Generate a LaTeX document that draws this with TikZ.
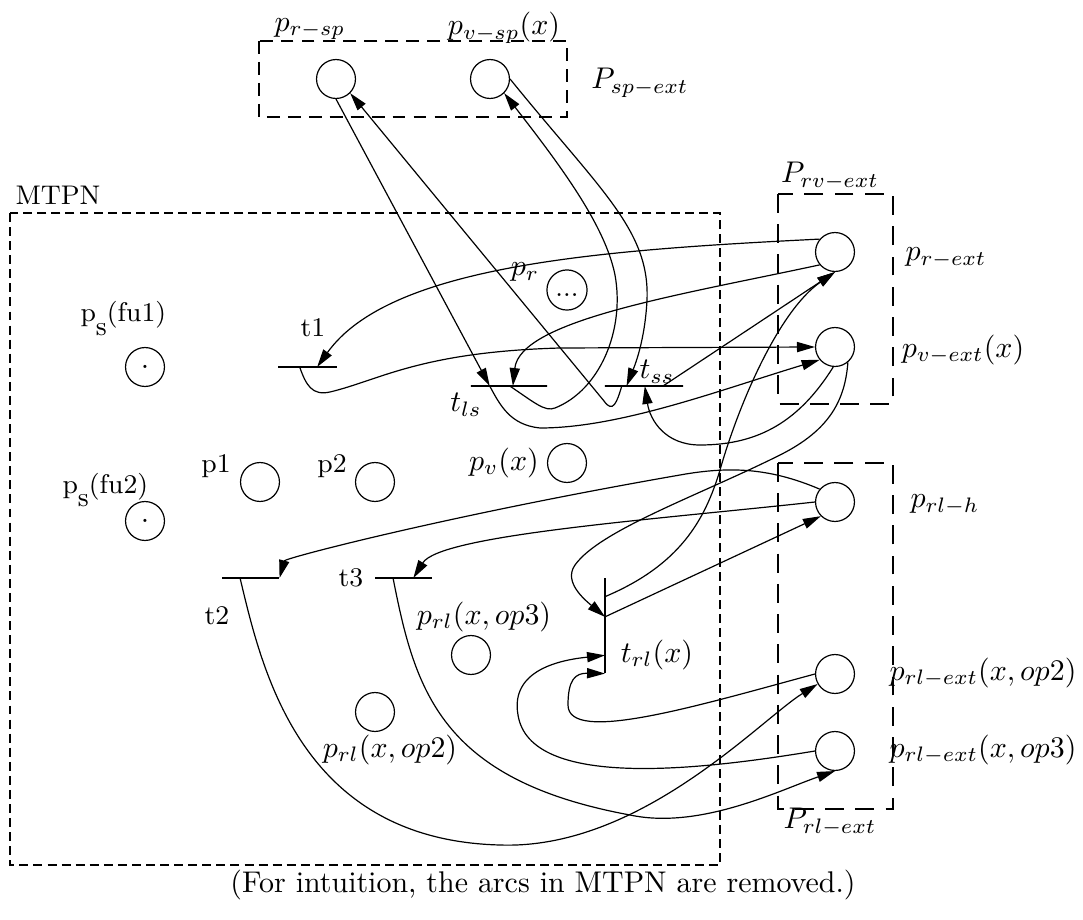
\documentclass[tikz,border=0pt]{standalone}
\usepackage{amsmath}
\usetikzlibrary{arrows.meta,calc}

\begin{document}
\begin{tikzpicture}[x=0.334pt,y=-0.334pt,>={Triangle[length=6pt,width=3.4pt]},
  place/.style={circle,draw,minimum size=13pt,inner sep=0pt},
  hbar/.style={draw,minimum width=#1,minimum height=0pt,inner sep=0pt},
  vbar/.style={draw,minimum height=#1,minimum width=0pt,inner sep=0pt},
  plain/.style={font=\small},
  netbox/.style={dash pattern=on 3pt off 1.7pt},
  extbox/.style={dash pattern=on 6.3pt off 3.8pt},
  spbox/.style={dash pattern=on 4.3pt off 2.7pt}]
  \useasboundingbox (0,0) rectangle (1083,920);

  \draw[spbox] (259,41) rectangle (567,117);
  \draw[netbox] (10,213) rectangle (720,865);
  \draw[extbox] (778,194) rectangle (893,404);
  \draw[extbox] (778,463) rectangle (893,809);

  \node[place] (prsp) at (336,79) {};
  \node[place] (pvsp) at (490,79) {};
  \node[place] (pr) at (567,290) {\small\strut...};
  \node[place] (psfu1) at (145,367) {.};
  \node[place] (psfu2) at (145,521) {.};
  \node[place] (p1) at (260,482) {};
  \node[place] (p2) at (375,482) {};
  \node[place] (pv) at (567,463) {};
  \node[place] (prl3) at (471,655) {};
  \node[place] (prl2) at (375,712) {};
  \node[place] (prext) at (835,252) {};
  \node[place] (pvext) at (835,347) {};
  \node[place] (prlh) at (835,502) {};
  \node[place] (prlext2) at (835,674) {};
  \node[place] (prlext3) at (835,751) {};

  \node[hbar=19.7pt] (t1) at (307.5,367) {};
  \node[hbar=25.4pt] (tls) at (509,386) {};
  \node[hbar=26.1pt] (tss) at (644,386) {};
  \node[hbar=19pt] (t2) at (250.5,578) {};
  \node[hbar=19pt] (t3) at (403.5,578) {};
  \node[vbar=31.7pt] (trl) at (605,625.5) {};

  \node (lprsp) at (310,29) {$p_{r-sp}$};
  \node (lpvsp) at (504,28) {$p_{v-sp}(x)$};
  \node (lspext) at (640,83) {$P_{sp-ext}$};
  \node[plain] (lmtpn) at (58,195) {MTPN};
  \node (lrvext) at (830,176) {$P_{rv-ext}$};
  \node (lprext) at (946,258) {$p_{r-ext}$};
  \node (lpvext) at (963,350) {$p_{v-ext}(x)$};
  \node (lprlh) at (945,505) {$p_{rl-h}$};
  \node (lprlext2) at (983,673) {$p_{rl-ext}(x,op2)$};
  \node (lprlext3) at (983,750) {$p_{rl-ext}(x,op3)$};
  \node (lrlext) at (830,822) {$P_{rl-ext}$};
  \node (lpr) at (525,272) {$p_r$};
  \node[plain,anchor=base west,inner sep=0pt] (lpsfu1) at (80,322) {p\raisebox{-4.5pt}{s}(fu1)};
  \node[plain,anchor=base west,inner sep=0pt] (lpsfu2) at (62,493) {p\raisebox{-4.5pt}{s}(fu2)};
  \node[plain] (lp1) at (216,466) {p1};
  \node[plain] (lp2) at (332,466) {p2};
  \node (lpv) at (504,463) {$p_v(x)$};
  \node[plain] (lt1) at (313,328) {t1};
  \node (ltls) at (466,405) {$t_{ls}$};
  \node (ltss) at (657,372) {$t_{ss}$};
  \node[plain] (lt2) at (217,616) {t2};
  \node[plain] (lt3) at (351,578) {t3};
  \node (ltrl) at (657,655) {$t_{rl}(x)$};
  \node (lprl3) at (484,617) {$p_{rl}(x,op3)$};
  \node (lprl2) at (390,750) {$p_{rl}(x,op2)$};
  \node (caption) at (543,885) {(For intuition, the arcs in MTPN are removed.)};

  \draw[->] (prsp.south) -- ($(tls.west)!0.25!(tls.east)$);
  \draw[->] ($(tss.west)!0.22!(tss.east)$) .. controls (617,402) and (613,414) .. (604,401) -- (prsp.-45);
  \draw[->] (pvsp.east) .. controls (600,190) and (650,230) .. (647,300) .. controls (645,340) and (635,365) .. ($(tss.west)!0.28!(tss.east)$);
  \draw[->] ($(tls.west)!0.51!(tls.east)$) .. controls (535,403) and (545,412) .. (555,408) .. controls (600,390) and (625,330) .. (615,275) .. controls (605,225) and (560,165) .. (pvsp.-45);
  \draw[->] (prext.140) .. controls (600,250) and (390,265) .. ($(t1.west)!0.66!(t1.east)$);
  \draw[->] (prext.220) .. controls (680,295) and (520,320) .. ($(tls.west)!0.55!(tls.east)$);
  \draw[->] ($(t1.west)!0.37!(t1.east)$) .. controls (306,385) and (312,396) .. (330,392) .. controls (380,380) and (420,352) .. (560,348) -- (pvext.west);
  \draw[->] ($(tls.west)!0.25!(tls.east)$) .. controls (500,405) and (510,425) .. (540,428) .. controls (620,428) and (720,390) .. (pvext.220);
  \draw[->] ($(tss.west)!0.74!(tss.east)$) -- (prext.south);
  \draw[->] (pvext.-95) .. controls (800,420) and (760,445) .. (700,445) .. controls (665,445) and (650,420) .. ($(tss.west)!0.51!(tss.east)$);
  \draw[->] (pvext.-50) .. controls (845,400) and (830,430) .. (780,455) .. controls (700,495) and (600,530) .. (575,565) .. controls (563,582) and (585,600) .. ($(trl.north)!0.41!(trl.south)$);
  \draw[->] ($(trl.north)!0.2!(trl.south)$) .. controls (680,565) and (705,520) .. (720,470) .. controls (740,400) and (780,310) .. (prext.south);
  \draw[->] ($(trl.north)!0.41!(trl.south)$) -- (prlh.225);
  \draw[->] (prlh.140) .. controls (770,468) and (730,466) .. (680,475) .. controls (450,515) and (285,558) .. (t2.east);
  \draw[->] (prlh.west) .. controls (650,520) and (440,535) .. ($(t3.west)!0.67!(t3.east)$);
  \draw[->] ($(t2.west)!0.32!(t2.east)$) .. controls (262,670) and (300,840) .. (500,845) .. controls (640,850) and (760,720) .. (prlext2.210);
  \draw[->] ($(t3.west)!0.32!(t3.east)$) .. controls (415,690) and (440,780) .. (630,815) .. controls (700,830) and (780,790) .. (prlext3.south);
  \draw[->] (prlext2.west) .. controls (700,705) and (568,745) .. (568,705) .. controls (568,680) and (575,673) .. (trl.south);
  \draw[->] (prlext3.west) .. controls (700,770) and (530,790) .. (518,715) .. controls (510,670) and (560,660) .. ($(trl.north)!0.81!(trl.south)$);
\end{tikzpicture}
\end{document}
